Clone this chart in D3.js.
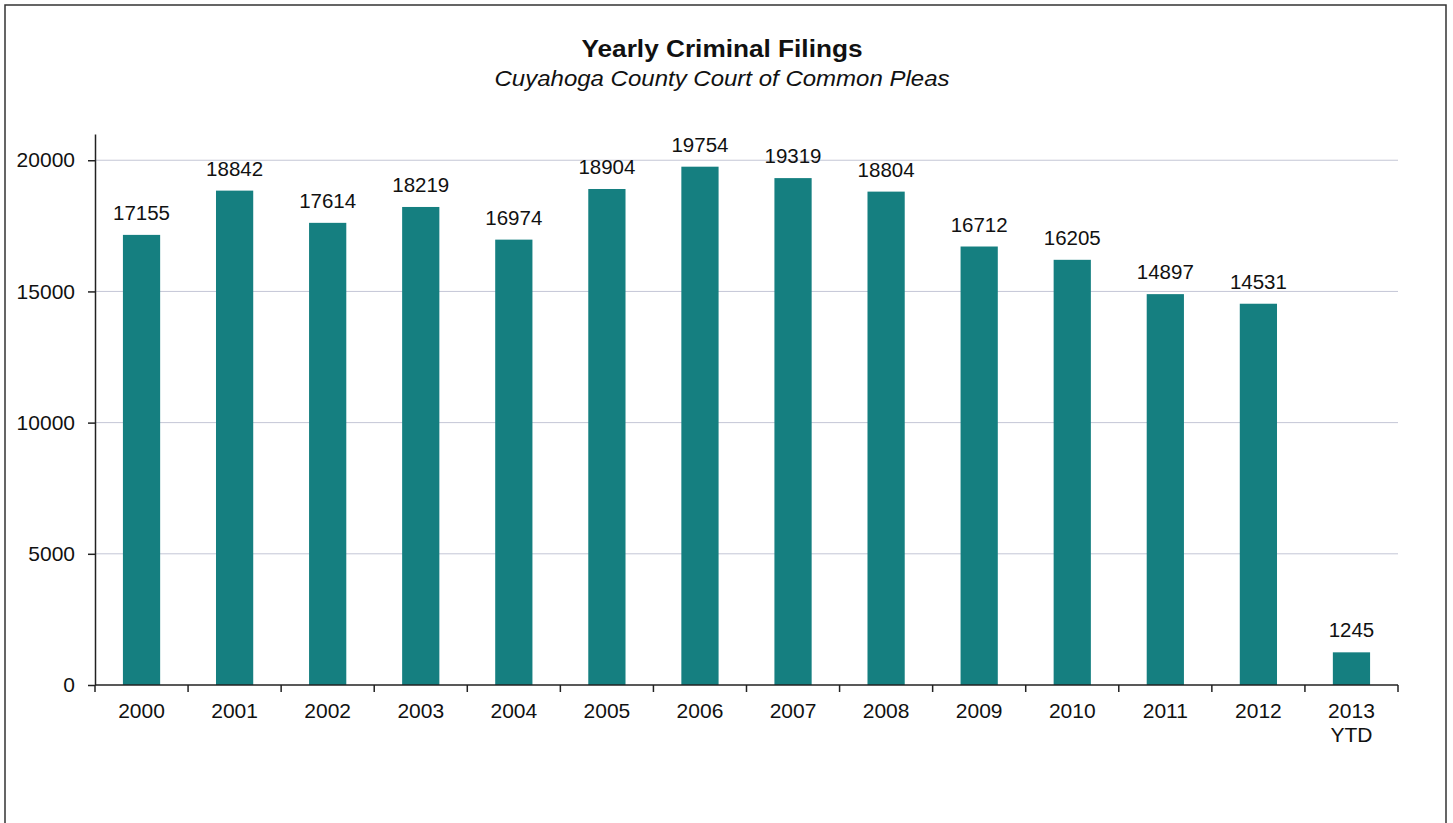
<!DOCTYPE html>
<html>
<head>
<meta charset="utf-8">
<script src="https://cdn.jsdelivr.net/npm/d3@7"></script>
<style>
  body { margin:0; background:#fff; }
  text { font-family: "Liberation Sans", Arial, sans-serif; fill:#111; }
</style>
</head>
<body>
<svg id="chart" width="1453" height="823"></svg>
<script>
var years  = ["2000","2001","2002","2003","2004","2005","2006","2007","2008","2009","2010","2011","2012","2013 YTD"];
var filings = [17155,18842,17614,18219,16974,18904,19754,19319,18804,16712,16205,14897,14531,1245];
var y_ticks = [0,5000,10000,15000,20000];

var svg = d3.select("#chart");
var plotL = 95, plotR = 1398, plotB = 685, plotT = 134;

// frame, no bottom edge in the scan
svg.append("path")
  .attr("d","M5,823 V5 H1446 V823")
  .attr("fill","none").attr("stroke","#333").attr("stroke-width",1.5);

var x = d3.scaleBand().domain(years).range([plotL,plotR]).paddingInner(0.6).paddingOuter(0.3);
var y = d3.scaleLinear().domain([0,21000]).range([plotB,plotT]);

// grid
svg.append("g").selectAll("line").data(y_ticks.filter(function(d){return d>0;}))
  .enter().append("line")
  .attr("x1",plotL).attr("x2",plotR)
  .attr("y1",function(d){return y(d);}).attr("y2",function(d){return y(d);})
  .attr("stroke","#c4c6d6").attr("stroke-width",1);

// bars
svg.append("g").selectAll("rect").data(filings)
  .enter().append("rect")
  .attr("x",function(d,i){return x(years[i]);})
  .attr("width",x.bandwidth())
  .attr("y",function(d){return y(d);})
  .attr("height",function(d){return plotB - y(d);})
  .attr("fill","#157f80");

// value labels
svg.append("g").selectAll("text").data(filings)
  .enter().append("text")
  .attr("x",function(d,i){return x(years[i]) + x.bandwidth()/2;})
  .attr("y",function(d){return y(d) - 15;})
  .attr("text-anchor","middle").attr("font-size",20.5)
  .text(function(d){return d;});

// y axis
var ya = svg.append("g").attr("transform","translate("+plotL+",0)")
  .call(d3.axisLeft(y).tickValues(y_ticks).tickSize(7).tickSizeOuter(0).tickFormat(d3.format("d")));
ya.select(".domain").attr("stroke","#222").attr("stroke-width",1.5);
ya.selectAll(".tick line").attr("stroke","#222").attr("stroke-width",1.5);
ya.selectAll(".tick text").attr("font-size",21).attr("x",-20)
  .style("font-family","'Liberation Sans', Arial, sans-serif").attr("fill","#111");

// x axis, ticks sit on category boundaries
var bounds = d3.range(years.length+1).map(function(i){return plotL + i*(plotR-plotL)/years.length;});
var xa = svg.append("g");
xa.append("line").attr("x1",plotL).attr("x2",plotR).attr("y1",plotB).attr("y2",plotB)
  .attr("stroke","#222").attr("stroke-width",1.5);
xa.selectAll("line.tk").data(bounds).enter().append("line").attr("class","tk")
  .attr("x1",function(d){return d;}).attr("x2",function(d){return d;})
  .attr("y1",plotB).attr("y2",plotB+7)
  .attr("stroke","#222").attr("stroke-width",1.5);
xa.selectAll("text").data(years).enter().append("text")
  .attr("x",function(d){return x(d) + x.bandwidth()/2;})
  .attr("y",plotB+33)
  .attr("text-anchor","middle").attr("font-size",21)
  .each(function(d){
    var parts = d.split(" ");
    var t = d3.select(this);
    parts.forEach(function(p,i){
      t.append("tspan").attr("x",t.attr("x")).attr("dy",i ? 24 : 0).text(p);
    });
  });

// titles
svg.append("text").attr("x",722).attr("y",57).attr("text-anchor","middle")
  .attr("font-size",23).attr("font-weight","bold")
  .attr("textLength",281).attr("lengthAdjust","spacingAndGlyphs")
  .text("Yearly Criminal Filings");
svg.append("text").attr("x",722).attr("y",86).attr("text-anchor","middle")
  .attr("font-size",22).attr("font-style","italic")
  .attr("textLength",455).attr("lengthAdjust","spacingAndGlyphs")
  .text("Cuyahoga County Court of Common Pleas");
</script>
</body>
</html>
